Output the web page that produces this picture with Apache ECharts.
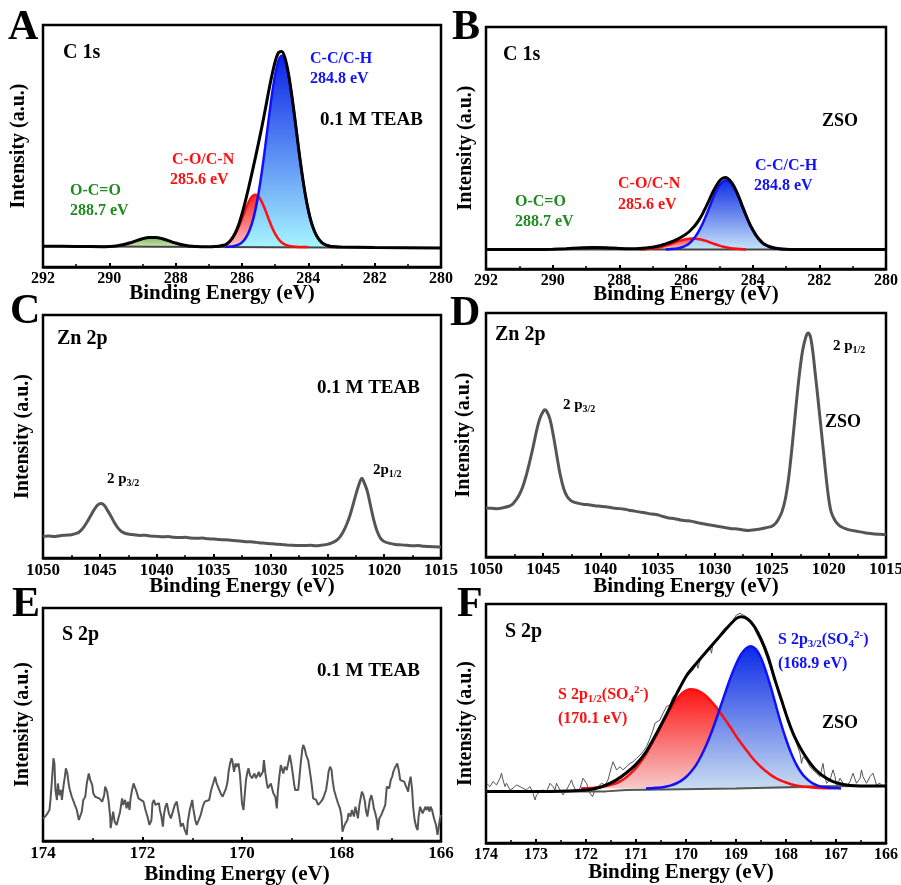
<!DOCTYPE html>
<html lang="en">
<head>
<meta charset="UTF-8">
<title>XPS C 1s / Zn 2p / S 2p</title>
<script src="https://cdn.jsdelivr.net/npm/echarts@6.0.0/dist/echarts.min.js"></script>
<style>html,body{margin:0;padding:0;background:#fff;}</style>
</head>
<body>
<div id="main" style="width:901px;height:885px;"></div>
<script>
var SERIF = '"Liberation Serif", "Times New Roman", serif';

// ---- A: C 1s, 0.1 M TEAB (intensity above the fitted background) ----
// component fits: first energy, step (eV, descending), values
var aGreen = { from: 290.2, step: 0.1, vals: [0, 0.1, 0.1, 0.2, 0.3, 0.5, 0.8, 1.1, 1.5, 1.9, 2.4, 2.8, 3.3, 3.6, 3.8, 3.9, 3.8, 3.6, 3.3, 2.8, 2.4, 1.9, 1.5, 1.1, 0.8, 0.5, 0.3, 0.2, 0.1, 0.1, 0] };
var aRed = { from: 286.9, step: 0.1, vals: [0, 0.1, 0.2, 0.5, 0.9, 1.8, 3.3, 5.4, 8.2, 11.7, 15.3, 18.5, 20.8, 21.6, 20.8, 18.5, 15.3, 11.7, 8.2, 5.4, 3.3, 1.8, 0.9, 0.5, 0.2, 0.1, 0, 0, 0, 0] };
var aBlue = { from: 286.5, step: 0.1, vals: [0, 0.1, 0.2, 0.5, 1.0, 1.9, 3.5, 6.0, 9.7, 15.1, 22.3, 31.2, 41.4, 52.3, 62.6, 71.2, 77.0, 79.0, 77.0, 71.2, 62.6, 52.3, 41.4, 31.2, 22.3, 15.1, 9.7, 6.0, 3.5, 1.9, 1.0, 0.5, 0.2, 0.1, 0] };
var aBg = [[292, 0.3], [280, -0.4]];
var aEnv = [[292, 0.3], [291, 0.2], [290.2, 0.1], [290.0, 0.2], [289.8, 0.4], [289.6, 0.9], [289.4, 1.6], [289.2, 2.5], [289.0, 3.4], [288.8, 3.9], [288.6, 3.9], [288.4, 3.4], [288.2, 2.5], [288.0, 1.6], [287.8, 0.9], [287.6, 0.4], [287.4, 0.2], [287.0, 0.1], [286.8, 0.2], [286.7, 0.3], [286.6, 0.6], [286.5, 0.9], [286.4, 1.9], [286.3, 3.5], [286.2, 5.9], [286.1, 9.2], [286.0, 13.6], [285.9, 18.8], [285.8, 24.5], [285.7, 30.5], [285.6, 36.7], [285.5, 43.1], [285.4, 49.7], [285.3, 56.7], [285.2, 64.0], [285.1, 70.8], [285.0, 76.6], [284.9, 80.3], [284.8, 80.8], [284.7, 77.9], [284.6, 71.7], [284.5, 62.8], [284.4, 52.4], [284.3, 41.4], [284.2, 31.2], [284.1, 22.3], [284.0, 15.1], [283.9, 9.7], [283.8, 6.0], [283.7, 3.5], [283.6, 1.9], [283.5, 1.0], [283.4, 0.5], [283.3, 0.2], [283.2, 0.1], [283.0, 0], [282.0, -0.2], [280, -0.4]];

// ---- B: C 1s, ZSO ----
var bGreen = { from: 290.2, step: 0.2, vals: [0, 0.1, 0.2, 0.3, 0.4, 0.6, 0.7, 0.8, 0.8, 0.7, 0.6, 0.4, 0.3, 0.2, 0.1, 0] };
var bRed = { from: 287.4, step: 0.1, vals: [0, 0.1, 0.2, 0.3, 0.4, 0.6, 0.9, 1.2, 1.6, 2.0, 2.5, 3.0, 3.5, 3.9, 4.2, 4.4, 4.5, 4.4, 4.2, 3.9, 3.5, 3.0, 2.5, 2.0, 1.6, 1.2, 0.9, 0.6, 0.4, 0.3, 0.2, 0.1, 0] };
var bBlue = { from: 286.6, step: 0.1, vals: [0, 0.1, 0.2, 0.3, 0.6, 1.0, 1.6, 2.5, 3.9, 5.7, 8.0, 10.7, 13.9, 17.3, 20.8, 23.9, 26.4, 28.0, 28.6, 28.0, 26.4, 23.9, 20.8, 17.3, 13.9, 10.7, 8.0, 5.7, 3.9, 2.5, 1.6, 1.0, 0.6, 0.3, 0.2, 0.1, 0] };
var bBg = [[292, 0], [280, 0]];
var bEnv = [[292, 0], [290.4, 0], [290.0, 0.1], [289.6, 0.3], [289.2, 0.6], [288.8, 0.8], [288.4, 0.7], [288.0, 0.4], [287.6, 0.3], [287.4, 0.4], [287.2, 0.6], [287.0, 0.9], [286.9, 1.2], [286.8, 1.5], [286.7, 1.9], [286.6, 2.3], [286.5, 2.8], [286.4, 3.3], [286.3, 3.9], [286.2, 4.6], [286.1, 5.4], [286.0, 6.3], [285.9, 7.4], [285.8, 8.8], [285.7, 10.4], [285.6, 12.4], [285.5, 14.8], [285.4, 17.6], [285.3, 20.5], [285.2, 23.5], [285.1, 26.1], [285.0, 28.2], [284.9, 29.4], [284.8, 29.7], [284.7, 28.8], [284.6, 27.0], [284.5, 24.4], [284.4, 21.2], [284.3, 17.6], [284.2, 14.1], [284.1, 10.9], [284.0, 8.2], [283.9, 5.9], [283.8, 4.1], [283.7, 2.7], [283.6, 1.8], [283.5, 1.2], [283.4, 0.8], [283.3, 0.5], [283.2, 0.3], [283.0, 0.1], [282.8, 0], [280, 0]];

// ---- C: Zn 2p, 0.1 M TEAB ----
var cZn = [[1050, 8.9], [1049.5, 9.1], [1049, 8.8], [1048.5, 9.2], [1048, 9.4], [1047.5, 9.6], [1047, 10.2], [1046.7, 11.2], [1046.4, 12.8], [1046.1, 15.0], [1045.8, 17.5], [1045.5, 19.9], [1045.2, 21.8], [1044.9, 22.4], [1044.6, 21.6], [1044.3, 19.4], [1044, 17.0], [1043.7, 14.4], [1043.4, 12.3], [1043.1, 10.9], [1042.8, 10.2], [1042.4, 9.8], [1042, 9.6], [1041.5, 9.3], [1041, 9.4], [1040.5, 9.0], [1040, 8.9], [1039.5, 8.7], [1039, 8.8], [1038.5, 8.5], [1038, 8.4], [1037.5, 8.5], [1037, 8.2], [1036.5, 8.1], [1036, 8.2], [1035.5, 7.9], [1035, 7.8], [1034.5, 7.6], [1034, 7.5], [1033.5, 7.3], [1033, 7.1], [1032.5, 6.9], [1032, 6.7], [1031.5, 6.6], [1031, 6.3], [1030.5, 6.1], [1030, 5.9], [1029.5, 5.7], [1029, 5.6], [1028.5, 5.3], [1028, 5.2], [1027.5, 5.1], [1027, 5.1], [1026.5, 5.2], [1026, 5.0], [1025.5, 5.3], [1025, 5.6], [1024.6, 6.2], [1024.2, 7.2], [1023.9, 8.6], [1023.6, 10.8], [1023.3, 13.8], [1023, 17.6], [1022.7, 22.5], [1022.4, 27.5], [1022.1, 31.8], [1021.95, 32.8], [1021.8, 31.5], [1021.5, 27.8], [1021.2, 21.6], [1020.9, 15.4], [1020.6, 10.8], [1020.3, 8.0], [1020, 6.8], [1019.5, 6.0], [1019, 5.6], [1018.5, 5.4], [1018, 5.2], [1017.5, 5.0], [1017, 5.1], [1016.5, 4.8], [1016, 4.7], [1015.5, 4.6], [1015, 4.5]];

// ---- D: Zn 2p, ZSO ----
var dZn = [[1050, 20.1], [1049.5, 20.0], [1049, 19.8], [1048.5, 20.2], [1048, 20.8], [1047.7, 21.6], [1047.4, 23.2], [1047.1, 25.4], [1046.8, 28.6], [1046.5, 33.1], [1046.2, 38.6], [1045.9, 44.6], [1045.6, 51.2], [1045.3, 56.6], [1045.0, 59.6], [1044.85, 60.3], [1044.7, 59.8], [1044.4, 56.4], [1044.1, 49.6], [1043.8, 41.4], [1043.5, 33.6], [1043.2, 28.0], [1042.9, 24.8], [1042.6, 23.2], [1042.3, 22.5], [1042, 22.1], [1041.5, 21.6], [1041, 21.4], [1040.5, 21.0], [1040, 20.8], [1039.5, 20.6], [1039, 20.2], [1038.5, 19.9], [1038, 19.7], [1037.5, 19.2], [1037, 18.8], [1036.5, 18.4], [1036, 18.0], [1035.5, 17.6], [1035, 17.3], [1034.5, 16.6], [1034, 16.0], [1033.5, 15.7], [1033, 15.2], [1032.5, 14.9], [1032, 14.6], [1031.5, 14.1], [1031, 13.6], [1030.5, 13.2], [1030, 12.8], [1029.5, 12.4], [1029, 12.0], [1028.5, 11.6], [1028, 11.5], [1027.5, 11.1], [1027, 10.9], [1026.5, 11.2], [1026, 11.5], [1025.5, 12.0], [1025, 12.6], [1024.7, 13.6], [1024.4, 15.6], [1024.1, 18.6], [1023.8, 24.0], [1023.5, 33.1], [1023.2, 46.0], [1022.9, 60.5], [1022.6, 74.0], [1022.3, 84.5], [1022.0, 90.4], [1021.8, 91.8], [1021.6, 90.0], [1021.4, 84.0], [1021.2, 75.5], [1021.0, 67.0], [1020.8, 58.0], [1020.6, 49.0], [1020.4, 40.0], [1020.2, 31.0], [1020.0, 23.5], [1019.8, 18.5], [1019.5, 15.3], [1019.2, 13.4], [1019, 12.6], [1018.5, 11.5], [1018, 10.9], [1017.5, 10.5], [1017, 10.1], [1016.5, 9.7], [1016, 9.4], [1015.5, 9.3], [1015, 9.2]];

// ---- E: S 2p, 0.1 M TEAB (noise only) ----
var eS = [[174.0, 9.5], [173.98, 9.7], [173.93, 11.2], [173.87, 13.3], [173.85, 17.6], [173.82, 26.2], [173.79, 35.5], [173.77, 33.3], [173.75, 21.9], [173.72, 17.6], [173.70, 24.7], [173.67, 19.7], [173.64, 21.9], [173.62, 17.6], [173.59, 23.3], [173.56, 27.6], [173.54, 31.2], [173.51, 29.0], [173.48, 24.0], [173.46, 21.9], [173.42, 19.0], [173.36, 15.5], [173.32, 13.3], [173.28, 9.0], [173.24, 8.3], [173.22, 12.6], [173.19, 17.6], [173.15, 19.0], [173.12, 24.7], [173.08, 29.0], [173.05, 26.2], [173.01, 24.0], [172.99, 20.5], [172.95, 19.0], [172.91, 18.3], [172.87, 18.3], [172.81, 16.9], [172.77, 19.7], [172.75, 23.3], [172.71, 21.2], [172.68, 16.9], [172.65, 10.5], [172.64, 5.5], [172.61, 9.7], [172.59, 12.6], [172.56, 8.3], [172.52, 6.9], [172.48, 7.6], [172.45, 12.6], [172.41, 18.3], [172.39, 15.5], [172.35, 17.6], [172.32, 14.0], [172.29, 16.9], [172.26, 13.3], [172.24, 18.3], [172.21, 21.9], [172.18, 24.7], [172.16, 25.5], [172.12, 21.2], [172.08, 18.3], [172.04, 19.0], [171.98, 16.9], [171.94, 13.3], [171.90, 10.5], [171.86, 6.9], [171.82, 9.0], [171.80, 16.2], [171.77, 17.6], [171.74, 15.5], [171.71, 14.7], [171.67, 16.2], [171.65, 13.3], [171.62, 10.5], [171.59, 6.2], [171.57, 11.2], [171.54, 14.7], [171.51, 16.2], [171.47, 11.9], [171.43, 9.7], [171.39, 12.6], [171.35, 15.5], [171.31, 16.9], [171.29, 14.0], [171.26, 10.5], [171.23, 6.2], [171.19, 7.6], [171.15, 4.7], [171.11, 2.6], [171.09, 8.3], [171.05, 13.3], [171.00, 17.6], [170.98, 14.0], [170.94, 9.0], [170.91, 6.9], [170.87, 9.0], [170.83, 11.2], [170.79, 14.7], [170.75, 16.9], [170.71, 17.6], [170.66, 17.6], [170.62, 21.9], [170.58, 24.7], [170.54, 27.6], [170.51, 24.7], [170.47, 22.6], [170.43, 20.5], [170.39, 19.0], [170.36, 18.3], [170.32, 22.6], [170.29, 25.5], [170.27, 29.7], [170.24, 33.3], [170.21, 35.5], [170.19, 34.0], [170.16, 29.7], [170.13, 33.3], [170.11, 31.9], [170.07, 33.3], [170.04, 28.3], [170.00, 16.2], [169.97, 13.3], [169.95, 12.6], [169.92, 26.2], [169.89, 29.7], [169.87, 31.2], [169.84, 28.3], [169.80, 26.9], [169.77, 27.6], [169.75, 29.0], [169.72, 26.9], [169.69, 26.2], [169.66, 29.7], [169.64, 27.6], [169.61, 26.9], [169.58, 29.7], [169.56, 34.7], [169.53, 29.0], [169.50, 24.7], [169.48, 22.6], [169.45, 22.6], [169.42, 24.7], [169.40, 24.0], [169.37, 20.5], [169.33, 19.0], [169.30, 14.0], [169.28, 21.2], [169.25, 27.6], [169.22, 32.6], [169.20, 31.2], [169.17, 29.0], [169.14, 31.9], [169.10, 30.5], [169.06, 34.7], [169.04, 36.9], [169.01, 33.3], [168.98, 29.0], [168.95, 24.0], [168.93, 21.9], [168.90, 21.2], [168.87, 21.9], [168.85, 26.2], [168.82, 33.3], [168.79, 39.0], [168.77, 41.2], [168.74, 39.7], [168.71, 36.9], [168.67, 34.7], [168.65, 31.9], [168.62, 27.6], [168.59, 22.6], [168.57, 18.3], [168.54, 19.0], [168.51, 17.6], [168.47, 15.5], [168.45, 14.7], [168.41, 16.9], [168.37, 18.3], [168.34, 19.0], [168.31, 21.9], [168.28, 26.2], [168.26, 29.7], [168.23, 31.9], [168.20, 30.5], [168.18, 26.2], [168.15, 21.9], [168.11, 19.0], [168.07, 16.2], [168.03, 14.0], [168.00, 10.5], [167.98, 4.0], [167.95, 6.2], [167.92, 7.6], [167.88, 9.0], [167.86, 11.9], [167.82, 10.5], [167.79, 13.3], [167.75, 10.5], [167.72, 14.7], [167.69, 11.9], [167.67, 9.7], [167.64, 15.5], [167.61, 19.0], [167.59, 21.2], [167.56, 19.7], [167.53, 16.9], [167.51, 13.3], [167.48, 10.5], [167.45, 14.7], [167.43, 17.6], [167.40, 19.7], [167.37, 16.9], [167.35, 14.0], [167.32, 11.9], [167.29, 9.0], [167.27, 4.7], [167.24, 9.7], [167.20, 11.2], [167.16, 11.9], [167.12, 15.5], [167.09, 23.3], [167.07, 24.0], [167.04, 22.6], [167.01, 26.2], [166.98, 27.6], [166.96, 29.7], [166.93, 31.2], [166.90, 31.9], [166.88, 33.3], [166.85, 30.5], [166.82, 26.2], [166.78, 25.5], [166.74, 25.5], [166.70, 26.2], [166.66, 21.2], [166.64, 24.7], [166.61, 27.6], [166.58, 21.9], [166.56, 14.7], [166.53, 9.0], [166.50, 6.2], [166.47, 4.7], [166.45, 10.5], [166.42, 14.7], [166.39, 15.5], [166.37, 11.9], [166.34, 12.6], [166.31, 14.7], [166.29, 13.3], [166.26, 14.7], [166.23, 12.6], [166.21, 14.7], [166.18, 13.3], [166.15, 10.5], [166.13, 9.0], [166.10, 6.9], [166.07, 2.6], [166.05, 1.9], [166.02, 9.7], [166.00, 11.2]];

// ---- F: S 2p, ZSO (intensity relative to the fit background level) ----
var fRed = { from: 172.1, step: 0.1, vals: [0, 0.1, 0.2, 0.4, 0.6, 1.0, 1.5, 2.2, 3.2, 4.6, 6.4, 8.6, 11.3, 14.4, 18.1, 21.9, 26.0, 30.0, 33.7, 36.9, 39.4, 41.0, 41.5, 41.2, 40.2, 38.7, 36.6, 34.1, 31.3, 28.3, 25.2, 22.0, 19.0, 16.2, 13.5, 11.1, 9.0, 7.2, 5.6, 4.3, 3.3, 2.5, 1.8, 1.3, 0.9, 0.7, 0.5, 0.3, 0.2, 0.1, 0] };
var fBlue = { from: 170.8, step: 0.1, vals: [0, 0.1, 0.3, 0.4, 0.8, 1.3, 2.1, 3.2, 4.8, 7.0, 9.8, 13.5, 17.9, 23.0, 28.7, 34.9, 41.0, 46.9, 52.0, 56.1, 58.6, 59.5, 58.2, 54.6, 48.9, 42.1, 34.6, 27.2, 20.6, 14.9, 10.3, 6.8, 4.3, 2.6, 1.5, 0.8, 0.5, 0.2, 0.1, 0] };
var fBg = [[174, -1.3], [171.6, -1.2], [171.2, -0.6], [169.0, 0.0], [168.0, 0.5], [167.3, 0.9], [166, 1.1]];
var fEnv = [[173.99, -1.3], [173.0, -1.3], [172.33, -1.0], [171.99, -0.6], [171.79, 0.1], [171.59, 1.5], [171.39, 3.6], [171.19, 6.6], [170.99, 10.3], [170.79, 15.6], [170.59, 23.0], [170.39, 31.0], [170.19, 39.5], [169.99, 47.2], [169.79, 52.4], [169.59, 57.3], [169.39, 62.1], [169.19, 67.0], [168.99, 71.2], [168.89, 71.9], [168.76, 70.8], [168.63, 67.7], [168.49, 62.1], [168.36, 55.2], [168.23, 46.1], [168.09, 37.0], [167.96, 28.7], [167.83, 21.7], [167.69, 16.1], [167.56, 11.9], [167.43, 8.4], [167.26, 5.2], [167.06, 2.9], [166.79, 1.5], [166.39, 1.1], [165.99, 1.1]];
var fRaw = [[173.99, 2.2], [173.92, 0.8], [173.86, 2.9], [173.79, 1.5], [173.72, 4.3], [173.69, 6.4], [173.66, 3.6], [173.62, 0.8], [173.59, 2.2], [173.52, -0.6], [173.46, 0.1], [173.39, 1.5], [173.32, 0.8], [173.26, 0.1], [173.19, -0.6], [173.12, 0.8], [173.06, -2.0], [173.02, -4.8], [172.99, -2.7], [172.92, -1.3], [172.86, -0.6], [172.79, -1.3], [172.72, 2.2], [172.69, 2.9], [172.66, 0.8], [172.62, -0.6], [172.59, 2.2], [172.56, 2.9], [172.52, -0.6], [172.46, -2.7], [172.39, -0.6], [172.32, 2.2], [172.29, 3.6], [172.26, 1.5], [172.19, -1.3], [172.12, 0.1], [172.06, 4.3], [172.02, 5.0], [171.99, 2.2], [171.92, -2.0], [171.87, -3.4], [171.82, -0.6], [171.76, 0.8], [171.69, 2.2], [171.62, 1.5], [171.56, 3.6], [171.49, 9.1], [171.46, 11.2], [171.42, 10.5], [171.39, 7.8], [171.32, 9.1], [171.26, 7.8], [171.19, 9.1], [171.12, 10.5], [171.06, 11.2], [170.99, 12.6], [170.92, 14.0], [170.86, 15.4], [170.79, 17.5], [170.72, 21.0], [170.66, 24.5], [170.62, 27.3], [170.59, 26.6], [170.52, 28.7], [170.46, 31.5], [170.39, 34.3], [170.32, 35.0], [170.26, 38.4], [170.19, 39.8], [170.12, 41.9], [170.06, 44.0], [169.99, 46.8], [169.92, 48.2], [169.86, 49.6], [169.79, 52.4], [169.76, 50.3], [169.72, 53.8], [169.66, 55.2], [169.59, 58.0], [169.52, 59.4], [169.49, 56.6], [169.46, 60.8], [169.39, 62.1], [169.32, 63.5], [169.26, 64.9], [169.19, 67.0], [169.12, 68.4], [169.06, 70.5], [168.99, 72.6], [168.92, 73.3], [168.86, 72.6], [168.79, 71.9], [168.72, 69.8], [168.66, 68.4], [168.59, 64.9], [168.52, 62.1], [168.46, 59.4], [168.39, 55.2], [168.32, 51.0], [168.26, 46.8], [168.19, 42.6], [168.12, 38.4], [168.06, 34.3], [167.99, 30.1], [167.92, 27.3], [167.86, 23.1], [167.79, 18.9], [167.72, 14.7], [167.69, 10.5], [167.66, 13.3], [167.59, 11.9], [167.52, 9.1], [167.46, 7.8], [167.39, 6.4], [167.32, 5.0], [167.29, 7.8], [167.26, 10.5], [167.22, 5.0], [167.19, 2.2], [167.12, 3.6], [167.06, 7.8], [167.02, 5.0], [166.99, 0.8], [166.92, 4.3], [166.86, 2.2], [166.79, 0.8], [166.72, 2.9], [166.66, 6.4], [166.62, 5.7], [166.59, 2.2], [166.52, 4.3], [166.49, 7.8], [166.46, 5.0], [166.39, 2.2], [166.32, 5.0], [166.26, 6.4], [166.22, 3.6], [166.19, 1.5], [166.12, 2.2], [166.06, 0.8], [165.99, 2.2]];

// panel layout: plot box [left, top, width, height], x axis [min, max, interval], y range
var panels = [
  { box: [43, 25, 398, 242], x: [280, 292, 2], y: [-8.3, 91.7], lab: 16, m: 3.5, gap: 16.5, pad: 40, yGap: 14 },
  { box: [486, 27, 400, 242], x: [280, 292, 2], y: [-8.1, 91.9], lab: 16, m: 3.5, gap: 15.5, pad: 0, yGap: 10 },
  { box: [43, 315, 398, 243], x: [1015, 1050, 5], y: [0, 100], lab: 17, m: 4, gap: 18.5, pad: 0, yGap: 10 },
  { box: [486, 313, 400, 244], x: [1015, 1050, 5], y: [0, 100], lab: 17, m: 4, gap: 19.5, pad: 0, yGap: 12 },
  { box: [43, 608, 398, 233], x: [166, 174, 2], y: [0, 100], lab: 17, m: 4.5, gap: 23.5, pad: 10, yGap: 10 },
  { box: [486, 604, 400, 239], x: [166, 174, 1], y: [-22.8, 77.2], lab: 16, m: 4, gap: 19.5, pad: 10, yGap: 10 }
];

function toPairs(c) {
  return c.vals.map(function (v, i) { return [+(c.from - i * c.step).toFixed(2), v]; });
}

function fill(p, data, top, bottom) {
  return {
    type: 'line', xAxisIndex: p, yAxisIndex: p, data: data, symbol: 'none', smooth: 0.3, silent: true, z: 2,
    lineStyle: { width: 0, opacity: 0 },
    areaStyle: { opacity: 1, color: new echarts.graphic.LinearGradient(0, 0, 0, 1, [{ offset: 0, color: top }, { offset: 1, color: bottom }]) }
  };
}

function line(p, data, color, width, z, smooth) {
  return {
    type: 'line', xAxisIndex: p, yAxisIndex: p, data: data, symbol: 'none', smooth: smooth, silent: true, z: z,
    lineStyle: { color: color, width: width }
  };
}

var grids = [], xAxes = [], yAxes = [];
panels.forEach(function (p, i) {
  grids.push({ left: p.box[0], top: p.box[1], width: p.box[2], height: p.box[3], show: true, borderColor: '#000', borderWidth: 2.5, containLabel: false, outerBoundsMode: 'none' });
  xAxes.push({
    gridIndex: i, type: 'value', min: p.x[0], max: p.x[1], interval: p.x[2], inverse: true,
    axisLine: { show: true, onZero: false, lineStyle: { color: '#000', width: 2.5 } },
    axisTick: { show: true, inside: true, length: 4, lineStyle: { color: '#000', width: 2 } },
    minorTick: { show: true, splitNumber: 2, length: 3, lineStyle: { color: '#000', width: 1.5 } },
    splitLine: { show: false }, minorSplitLine: { show: false },
    axisLabel: { color: '#000', fontFamily: SERIF, fontWeight: 'bold', fontSize: p.lab, margin: p.m,
      formatter: function (v) { return String(v); } },
    name: 'Binding Energy (eV)', nameLocation: 'middle', nameGap: p.gap, nameMoveOverlap: false,
    nameTextStyle: { color: '#000', fontFamily: SERIF, fontWeight: 'bold', fontSize: 21, padding: [0, p.pad, 0, 0] }
  });
  yAxes.push({
    gridIndex: i, type: 'value', min: p.y[0], max: p.y[1],
    axisLine: { show: false }, axisTick: { show: false }, axisLabel: { show: false }, splitLine: { show: false },
    name: 'Intensity (a.u.)', nameLocation: 'middle', nameRotate: 90, nameGap: p.yGap, nameMoveOverlap: false,
    nameTextStyle: { color: '#000', fontFamily: SERIF, fontWeight: 'bold', fontSize: 20 }
  });
});

var RED = '#ff0f0f', BLUE = '#1010ff', GREEN = '#1f8a1f';

var series = [
  // A
  fill(0, toPairs(aGreen), '#7fb85c', '#cfe6bb'),
  fill(0, toPairs(aRed), '#ff2424', '#f8c2c2'),
  fill(0, toPairs(aBlue), '#0b22e8', '#a6f4ff'),
  line(0, aBg, '#444', 2, 3, false),
  line(0, toPairs(aGreen), '#3d7d35', 2, 4, 0.3),
  line(0, toPairs(aRed), RED, 2.5, 4, 0.3),
  line(0, toPairs(aBlue), BLUE, 2.5, 4, 0.3),
  line(0, aEnv, '#000', 3, 6, 0.3),
  // B
  fill(1, toPairs(bGreen), '#5a9a7a', '#9cc4b0'),
  fill(1, toPairs(bRed), '#f24a4a', '#f8c6c6'),
  fill(1, toPairs(bBlue), '#0f2ee6', '#c6e3f7'),
  line(1, bBg, '#444', 2, 3, false),
  line(1, toPairs(bGreen), '#2e8b57', 2, 4, 0.3),
  line(1, toPairs(bRed), RED, 2.5, 4, 0.3),
  line(1, toPairs(bBlue), BLUE, 2.5, 4, 0.3),
  line(1, bEnv, '#000', 3, 6, 0.3),
  // C, D, E
  line(2, cZn, '#555', 3, 4, 0.3),
  line(3, dZn, '#555', 3, 4, 0.3),
  line(4, eS, '#555', 2, 4, false),
  // F
  fill(5, toPairs(fRed), '#ff1414', '#f6c9c9'),
  fill(5, toPairs(fBlue), '#0a2ae6', '#c9ddf0'),
  line(5, fBg, '#555', 2, 3, false),
  line(5, toPairs(fRed), RED, 2.5, 4, 0.3),
  line(5, toPairs(fBlue), BLUE, 2.5, 4, 0.3),
  line(5, fRaw, '#555', 1, 5, false),
  line(5, fEnv, '#000', 3, 6, 0.3)
];

function txt(x, y, text, size, color) {
  return { type: 'text', x: x, y: y, silent: true, z: 100,
    style: { text: text, fill: color || '#000', font: 'bold ' + size + 'px ' + SERIF, align: 'left', verticalAlign: 'middle' } };
}

// rich text with subscript (s) and superscript (u) tokens
function rtxt(x, y, text, size, color) {
  var small = Math.round(size * 0.68);
  var f1 = 'bold ' + size + 'px ' + SERIF, f2 = 'bold ' + small + 'px ' + SERIF;
  return { type: 'text', x: x, y: y, silent: true, z: 100,
    style: { text: text, fill: color, font: f1, align: 'left', verticalAlign: 'middle',
      rich: {
        m: { font: f1, fill: color, lineHeight: size + 4 },
        s: { font: f2, fill: color, lineHeight: small, verticalAlign: 'bottom' },
        u: { font: f2, fill: color, lineHeight: small, verticalAlign: 'top' }
      } } };
}

var labels = [
  txt(8, 28, 'A', 42), txt(452, 28, 'B', 42), txt(10, 312, 'C', 42),
  txt(450, 314, 'D', 42), txt(12, 605, 'E', 42), txt(457, 605, 'F', 42),
  // A
  txt(63, 53, 'C 1s', 20), txt(320, 120, '0.1 M TEAB', 19),
  txt(310, 59, 'C-C/C-H', 16, BLUE), txt(310, 79, '284.8 eV', 16, BLUE),
  txt(172, 160, 'C-O/C-N', 16, RED), txt(170, 180, '285.6 eV', 16, RED),
  txt(70, 191, 'O-C=O', 16, GREEN), txt(70, 211, '288.7 eV', 16, GREEN),
  // B
  txt(503, 55, 'C 1s', 20), txt(822, 121, 'ZSO', 18),
  txt(755, 166, 'C-C/C-H', 16, BLUE), txt(754, 186, '284.8 eV', 16, BLUE),
  txt(618, 184, 'C-O/C-N', 16, RED), txt(618, 205, '285.6 eV', 16, RED),
  txt(515, 202, 'O-C=O', 16, GREEN), txt(515, 222, '288.7 eV', 16, GREEN),
  // C
  txt(57, 339, 'Zn 2p', 20), txt(317, 388, '0.1 M TEAB', 19),
  rtxt(107, 479, '{m|2 p}{s|3/2}', 15, '#000'), rtxt(373, 470, '{m|2p}{s|1/2}', 15, '#000'),
  // D
  txt(495, 335, 'Zn 2p', 20), txt(825, 422, 'ZSO', 18),
  rtxt(833, 346, '{m|2 p}{s|1/2}', 15, '#000'), rtxt(563, 405, '{m|2 p}{s|3/2}', 15, '#000'),
  // E
  txt(62, 635, 'S 2p', 20), txt(317, 671, '0.1 M TEAB', 19),
  // F
  txt(505, 632, 'S 2p', 20), txt(822, 723, 'ZSO', 18),
  rtxt(778, 640, '{m|S 2p}{s|3/2}{m|(SO}{s|4}{u|2-}{m|)}', 16, BLUE), txt(778, 664, '(168.9 eV)', 16, BLUE),
  rtxt(558, 695, '{m|S 2p}{s|1/2}{m|(SO}{s|4}{u|2-}{m|)}', 16, RED), txt(558, 719, '(170.1 eV)', 16, RED)
];

var chart = echarts.init(document.getElementById('main'));
chart.setOption({
  animation: false,
  backgroundColor: '#fff',
  grid: grids,
  xAxis: xAxes,
  yAxis: yAxes,
  series: series,
  graphic: labels
});
</script>
</body>
</html>
